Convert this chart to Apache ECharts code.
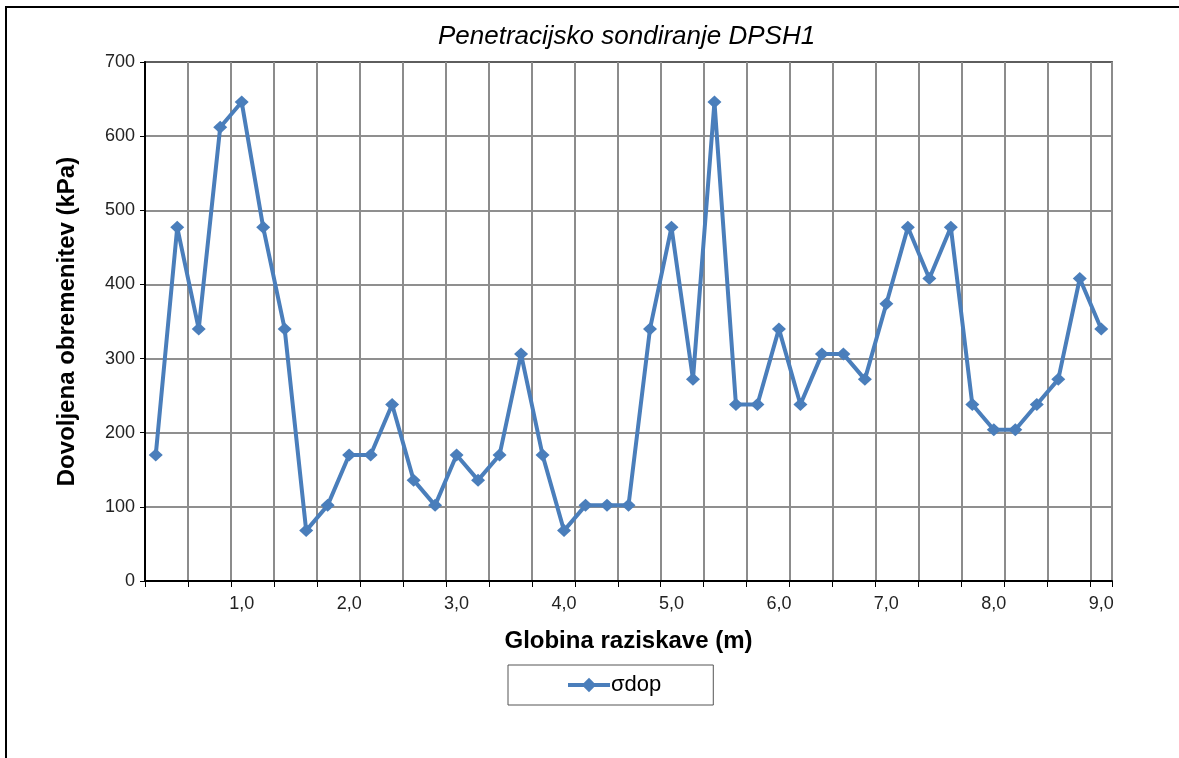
<!DOCTYPE html>
<html>
<head>
<meta charset="utf-8">
<title>Penetracijsko sondiranje DPSH1</title>
<script src="https://cdn.jsdelivr.net/npm/echarts@6/dist/echarts.min.js"></script>
<style>
  html, body { margin: 0; padding: 0; background: #fff; }
  #chart { width: 1179px; height: 758px; }
</style>
</head>
<body>
<div id="chart"></div>
<script>
// globina (m), korak 0,2 m
const depths = [
  '0,2', '0,4', '0,6', '0,8', '1,0', '1,2', '1,4', '1,6', '1,8', '2,0',
  '2,2', '2,4', '2,6', '2,8', '3,0', '3,2', '3,4', '3,6', '3,8', '4,0',
  '4,2', '4,4', '4,6', '4,8', '5,0', '5,2', '5,4', '5,6', '5,8', '6,0',
  '6,2', '6,4', '6,6', '6,8', '7,0', '7,2', '7,4', '7,6', '7,8', '8,0',
  '8,2', '8,4', '8,6', '8,8', '9,0'
];

// σdop (kPa)
const sigmaDop = [
  170, 477, 340, 612, 646, 477, 340, 68, 102, 170,
  170, 238, 136, 102, 170, 136, 170, 306, 170, 68,
  102, 102, 102, 340, 477, 272, 646, 238, 238, 340,
  238, 306, 306, 272, 374, 477, 408, 477, 238, 204,
  204, 238, 272, 408, 340
];

const yTicks = { min: 0, max: 700, step: 100 };

const chart = echarts.init(document.getElementById('chart'));

const font = 'Liberation Sans, Arial, sans-serif';

const option = {
  animation: false,
  backgroundColor: '#fff',
  textStyle: { fontFamily: font },
  title: {
    text: 'Penetracijsko sondiranje DPSH1',
    left: 433,
    top: 19,
    textStyle: {
      fontFamily: font,
      fontStyle: 'italic',
      fontWeight: 'normal',
      fontSize: 26,
      color: '#000'
    }
  },
  // okvir grafa
  graphic: [{
    type: 'rect',
    shape: { x: 6, y: 7, width: 1400, height: 1000 },
    style: { fill: 'none', stroke: '#000', lineWidth: 2 },
    silent: true
  }],
  legend: {
    left: 508,
    top: 665,
    padding: [9, 52, 9, 58],
    borderColor: '#555',
    borderWidth: 1,
    itemWidth: 42,
    itemHeight: 18,
    itemGap: 0,
    lineStyle: { width: 4 },
    textStyle: { fontFamily: font, fontSize: 22, color: '#000', padding: [0, 0, 0, -4] },
    data: ['σdop']
  },
  grid: {
    left: 145,
    right: 67,
    top: 62,
    bottom: 177,
    show: true,
    borderColor: '#000',
    borderWidth: 1.5,
    containLabel: false
  },
  xAxis: {
    type: 'category',
    boundaryGap: true,
    data: depths,
    name: 'Globina raziskave (m)',
    nameLocation: 'middle',
    nameGap: 48,
    nameTextStyle: { fontFamily: font, fontSize: 24, fontWeight: 'bold', color: '#000' },
    axisLine: { lineStyle: { color: '#000', width: 2 } },
    axisTick: {
      show: true,
      length: 6,
      interval: (i) => i % 2 === 0,
      lineStyle: { color: '#000' }
    },
    axisLabel: {
      interval: (i) => (i + 1) % 5 === 0,
      fontFamily: font,
      fontSize: 18,
      color: '#222',
      margin: 14
    },
    splitLine: {
      show: true,
      interval: (i) => i % 2 === 0,
      lineStyle: { color: '#8c8c8c', width: 2 }
    }
  },
  yAxis: {
    type: 'value',
    min: yTicks.min,
    max: yTicks.max,
    interval: yTicks.step,
    name: 'Dovoljena obremenitev (kPa)',
    nameLocation: 'middle',
    nameGap: 66,
    nameTextStyle: { fontFamily: font, fontSize: 24, fontWeight: 'bold', color: '#000' },
    axisLine: { show: true, lineStyle: { color: '#000', width: 2 } },
    axisTick: { show: true, length: 5, lineStyle: { color: '#000' } },
    axisLabel: { fontFamily: font, fontSize: 18, color: '#222', margin: 10 },
    splitLine: { show: true, lineStyle: { color: '#6a6a6a', width: 1.5 } }
  },
  series: [{
    name: 'σdop',
    type: 'line',
    data: sigmaDop,
    symbol: 'diamond',
    symbolSize: [14, 13],
    lineStyle: { color: '#4a7ebb', width: 4 },
    itemStyle: { color: '#4a7ebb' }
  }]
};

chart.setOption(option);
</script>
</body>
</html>
